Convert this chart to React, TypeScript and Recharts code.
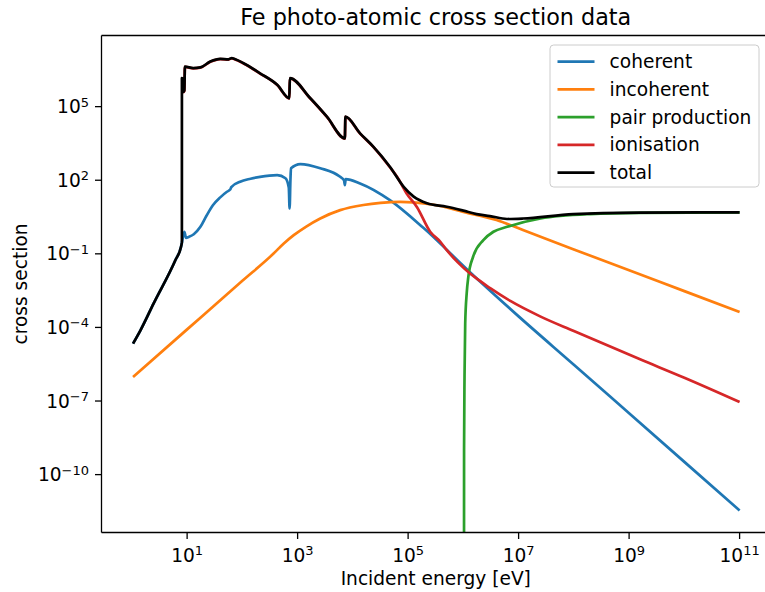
import { LineChart, Line, XAxis, YAxis, ReferenceLine } from "recharts";

// [energy eV, cross section] pairs
const coherent: [number, number][] = [
  [1.05, 2.19e-5], [1.43, 7.59e-5], [2.48, 9.55e-4], [6.12, 5.5e-2], [7.76, 0.195],
  [8.04, 0.282], [8.91, 0.794], [9.55, 0.447], [10.7, 0.49], [13.2, 0.631],
  [17.4, 1.26], [22.4, 3.55], [29.5, 9.77], [39.8, 20.0], [52.5, 33.9],
  [60.3, 41.7], [63.1, 52.5], [91.2, 87.1], [141, 115], [209, 138], [427, 162],
  [603, 120], [692, 50.1], [716, 7.08], [741, 100], [759, 309], [1120, 457],
  [2570, 309], [5890, 138], [6920, 100], [7160, 63.1], [7410, 112], [13500, 74.1],
  [46800, 15.5], [191000, 1.12], [1.32e6, 1.78e-2], [1e7, 2.82e-4], [1e8, 3.02e-6],
  [1e9, 3.16e-8], [1e10, 3.31e-10], [1e11, 3.47e-12],
];

const incoherent: [number, number][] = [
  [1.05, 9.55e-7], [10, 8.32e-5], [100, 7.94e-3], [363, 0.1], [562, 0.263],
  [851, 0.575], [1410, 1.26], [2570, 2.75], [5890, 6.03], [15500, 9.77],
  [31600, 12.0], [72400, 13.2], [123000, 12.6], [251000, 10.5], [380000, 8.91],
  [1e6, 5.13], [3.98e6, 2.4], [1.2e7, 0.933], [1e8, 0.151], [1e9, 2.14e-2],
  [1e10, 3.02e-3], [1e11, 4.27e-4],
];

const pairProduction: [number, number][] = [
  [1.022e6, 1e-25], [1.03e6, 1e-9], [1.05e6, 1e-6], [1.08e6, 1.45e-4],
  [1.15e6, 2.5e-3], [1.23e6, 1.15e-2], [1.5e6, 7.59e-2], [2.3e6, 0.363],
  [3.5e6, 0.794], [6.2e6, 1.26], [2.5e7, 2.75], [2e8, 4.17], [1.6e9, 4.68],
  [1e11, 4.9],
];

const ionisation: [number, number][] = [
  [8.05, 1.41e6], [8.51, 1.23e6], [8.61, 3.89e5], [8.91, 4.37e5], [9.12, 4.17e6],
  [12.9, 3.63e6], [17.4, 3.89e6], [26.3, 6.76e6], [39.8, 8.71e6], [56.2, 8.32e6],
  [64.6, 9.33e6], [70.8, 8.71e6], [105, 5.75e6], [209, 2.24e6], [427, 7.59e5],
  [708, 2.14e5], [724, 1.41e6], [1700, 2.14e5], [3390, 3.8e4], [7160, 5010],
  [7330, 3.8e4], [13500, 7940], [23400, 2290], [46800, 339], [63100, 138],
  [93300, 29.5], [145000, 7.94], [251000, 0.794], [380000, 0.316], [501000, 0.141],
  [794000, 4.47e-2], [1.32e6, 1.58e-2], [2e6, 7.94e-3], [3.16e6, 3.8e-3],
  [7.08e6, 1.2e-3], [2.45e7, 2.82e-4], [1e8, 7.08e-5], [1.58e9, 5.01e-6],
  [1e10, 8.91e-7], [1e11, 9.12e-8],
];

const total: [number, number][] = [
  [1.05, 2.19e-5], [1.43, 7.59e-5], [2.48, 9.55e-4], [6.12, 5.5e-2], [7.76, 0.195],
  [8.04, 0.3], [8.05, 1.45e6], [8.51, 1.26e6], [8.61, 3.98e5], [8.91, 4.47e5],
  [9.12, 4.27e6], [12.9, 3.72e6], [17.4, 3.98e6], [26.3, 6.92e6], [39.8, 8.91e6],
  [56.2, 8.51e6], [64.6, 9.55e6], [70.8, 8.91e6], [105, 5.89e6], [209, 2.29e6],
  [427, 7.76e5], [708, 2.19e5], [724, 1.45e6], [1700, 2.19e5], [3390, 3.89e4],
  [7160, 5130], [7330, 3.89e4], [13500, 8130], [23400, 2340], [46800, 355],
  [83200, 53.7], [126000, 21.4], [219000, 11.5], [501000, 8.32], [1e6, 5.75],
  [1.74e6, 4.17], [3.02e6, 3.47], [6.17e6, 2.63], [1.2e7, 2.75], [9.77e7, 4.17],
  [1.58e9, 4.75], [1e11, 4.92],
];

const xTicks = [1e1, 1e3, 1e5, 1e7, 1e9, 1e11];
const yTicks = [1e-10, 1e-7, 1e-4, 1e-1, 1e2, 1e5];
const xDomain = [0.282, 3.55e11];
const yDomain = [4.37e-13, 7.94e7];

const series = [
  { name: "coherent", color: "#1f77b4", data: coherent },
  { name: "incoherent", color: "#ff7f0e", data: incoherent },
  { name: "pair production", color: "#2ca02c", data: pairProduction },
  { name: "ionisation", color: "#d62728", data: ionisation },
  { name: "total", color: "#000000", data: total },
];

const font = "DejaVu Sans";
const fs = 18.6;

const exponent = (v: number) => {
  const e = Math.round(Math.log10(v));
  return e < 0 ? "\u2212" + Math.abs(e) : String(e);
};

const XTick = ({ x, y, payload }: any) => (
  <text x={x} y={y + 23} textAnchor="middle" fontSize={fs} fontFamily={font} fill="#000">
    10<tspan dy={-7} fontSize={13}>{exponent(payload.value)}</tspan>
  </text>
);

const YTick = ({ x, y, payload }: any) => (
  <text x={x - 6} y={y + 6.6} textAnchor="end" fontSize={fs} fontFamily={font} fill="#000">
    10<tspan dy={-6.6} fontSize={13}>{exponent(payload.value)}</tspan>
  </text>
);

export default function App() {
  return (
    <div style={{ position: "relative", width: 765, height: 592, overflow: "hidden", background: "#fff" }}>
      <style>{"body{margin:0}"}</style>
      <LineChart width={770} height={592} margin={{ top: 35.5, right: 0, bottom: 29.5, left: 41.5 }}>
        <XAxis
          dataKey="e"
          type="number"
          scale="log"
          domain={xDomain}
          allowDataOverflow
          ticks={xTicks}
          interval={0}
          tick={<XTick />}
          tickSize={6.5}
          tickMargin={0}
          height={30}
          axisLine={{ stroke: "#000", strokeWidth: 1.3 }}
          tickLine={{ stroke: "#000", strokeWidth: 1.3 }}
        />
        <YAxis
          type="number"
          scale="log"
          domain={yDomain}
          allowDataOverflow
          ticks={yTicks}
          interval={0}
          tick={<YTick />}
          tickSize={6.5}
          tickMargin={0}
          width={60}
          axisLine={{ stroke: "#000", strokeWidth: 1.3 }}
          tickLine={{ stroke: "#000", strokeWidth: 1.3 }}
        />
        <ReferenceLine y={yDomain[1]} stroke="#000" strokeWidth={1.3} ifOverflow="visible" />
        {series.map((s) => (
          <Line
            key={s.name}
            data={s.data.map(([e, v]) => ({ e, v }))}
            dataKey="v"
            name={s.name}
            type="monotone"
            stroke={s.color}
            strokeWidth={2.7}
            strokeLinejoin="round"
            dot={false}
            activeDot={false}
            isAnimationActive={false}
          />
        ))}
      </LineChart>
      <svg
        width={765}
        height={592}
        style={{ position: "absolute", left: 0, top: 0, pointerEvents: "none" }}
        fontFamily={font}
      >
        <text x={435.75} y={25} textAnchor="middle" fontSize={22.3} fill="#000">
          Fe photo-atomic cross section data
        </text>
        <text x={435.75} y={585} textAnchor="middle" fontSize={fs} fill="#000">
          Incident energy [eV]
        </text>
        <text transform="translate(27,284) rotate(-90)" textAnchor="middle" fontSize={fs} fill="#000">
          cross section
        </text>
        <rect x={550} y={45} width={209} height={142} rx={3.7} fill="#fff" fillOpacity={0.8} stroke="#cccccc" strokeWidth={1} />
        {series.map((s, i) => {
          const cy = 61.7 + i * 27.75;
          return (
            <g key={s.name}>
              <line x1={557.5} x2={594.5} y1={cy} y2={cy} stroke={s.color} strokeWidth={2.7} />
              <text x={609.6} y={cy + 6.5} fontSize={fs} fill="#000">
                {s.name}
              </text>
            </g>
          );
        })}
      </svg>
    </div>
  );
}
